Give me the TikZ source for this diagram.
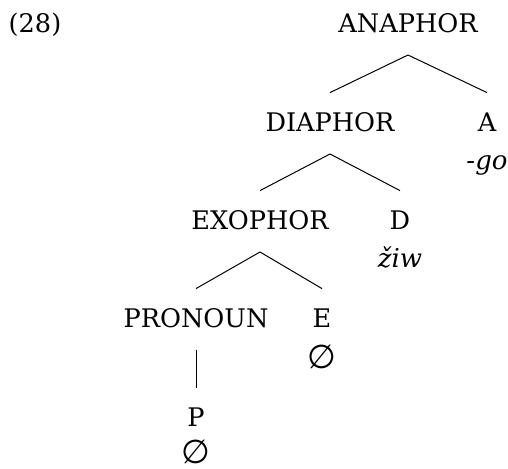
\documentclass[tikz,border=0pt]{standalone}
\usepackage{fontspec}
\setmainfont{DejaVu Serif}
\newfontfamily\symfont{DejaVu Sans}

\begin{document}
\begin{tikzpicture}[
    x=0.5pt, y=-0.5pt,
    font=\fontsize{12.8}{15}\selectfont,
    feat/.style={anchor=base, inner sep=0pt, outer sep=11pt, text height=8.7pt, text depth=0pt},
    form/.style={anchor=base, inner sep=0pt, font=\fontsize{13}{15}\selectfont\itshape},
    nullform/.style={inner sep=0pt, font=\fontsize{16.5}{18}\selectfont\symfont},
    branch/.style={line width=0.5pt}
]
\useasboundingbox (0,0) rectangle (508,469);

% Example number
\node[anchor=base, inner sep=0pt] (num) at (35,33) {(28)};

% Feature nodes
\node[feat] (ana) at (408,33) {ANAPHOR};
\node[feat] (dia) at (330,132) {DIAPHOR};
\node[feat] (afeat) at (487,132) {A};
\node[feat] (exo) at (260,230) {EXOPHOR};
\node[feat] (dfeat) at (400,230) {D};
\node[feat] (pro) at (196,328) {PRONOUN};
\node[feat] (efeat) at (322,328) {E};
\node[feat] (pfeat) at (196,427) {P};

% Exponents
\node[form] (go) at (487,170) {-go};
\node[form] (ziw) at (400,268) {žiw};
\node[nullform] (enull) at (322,357) {∅};
\node[nullform] (pnull) at (196,452) {∅};

% Branches
\draw[branch] (ana.south) -- (dia.north);
\draw[branch] (ana.south) -- (afeat.north);
\draw[branch] (dia.south) -- (exo.north);
\draw[branch] (dia.south) -- (dfeat.north);
\draw[branch] (exo.south) -- (pro.north);
\draw[branch] (exo.south) -- (efeat.north);
\draw[branch] (pro.south) -- (pfeat.north);

\end{tikzpicture}
\end{document}
